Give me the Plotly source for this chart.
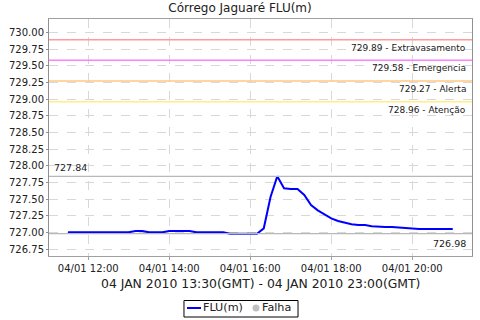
import plotly.graph_objects as go
import pandas as pd

times = pd.date_range("2010-01-04 11:30", "2010-01-04 21:00", freq="10min")
flu = [727.00, 727.00, 727.00, 727.00, 727.00, 727.00, 727.00, 727.00, 727.00, 727.00,
       727.02, 727.02, 727.00, 727.00, 727.00, 727.02, 727.02, 727.02, 727.02, 727.00,
       727.00, 727.00, 727.00, 727.00, 726.98, 726.98, 726.98, 726.98, 726.98, 727.06,
       727.53, 727.84, 727.66, 727.65, 727.65, 727.56, 727.41, 727.33, 727.27, 727.21,
       727.17, 727.14, 727.12, 727.11, 727.11, 727.09, 727.08, 727.08, 727.08, 727.07,
       727.06, 727.06, 727.05, 727.05, 727.05, 727.05, 727.05, 727.05]

threshold_values = [729.89, 729.58, 729.27, 728.96]
threshold_names = ["Extravasamento", "Emergencia", "Alerta", "Atenção"]
threshold_colors = ["#ff9a9a", "#ff80ff", "#ffc880", "#ffee88"]

max_val = 727.84
min_val = 726.98

title = "Córrego Jaguaré FLU(m)"
xtitle = "04 JAN 2010 13:30(GMT) - 04 JAN 2010 23:00(GMT)"
legend_names = ["FLU(m)", "Falha"]
font = "DejaVu Sans"
txt = "#202020"

fig = go.Figure()
fig.add_trace(go.Scatter(x=times, y=flu, mode="lines", name=legend_names[0],
                         line=dict(color="#0000ff", width=2), showlegend=False))

shapes = []
annotations = []
for v, n, c in zip(threshold_values, threshold_names, threshold_colors):
    shapes.append(dict(type="line", xref="paper", x0=0, x1=1, yref="y", y0=v, y1=v,
                       line=dict(color=c, width=1.5)))
    annotations.append(dict(xref="paper", x=0.99, yref="y", y=v, yshift=-1,
                            text=f"{v:.2f} - {n}", showarrow=False,
                            xanchor="right", yanchor="top",
                            font=dict(family=font, size=9, color=txt)))
for v in [max_val, min_val]:
    shapes.append(dict(type="line", xref="paper", x0=0, x1=1, yref="y", y0=v, y1=v,
                       line=dict(color="#b8b8b8", width=1.2)))
annotations.append(dict(xref="paper", x=0.007, yref="y", y=max_val, yshift=1,
                        text=f"{max_val:.2f}", showarrow=False, xanchor="left",
                        yanchor="bottom", font=dict(family=font, size=9.5, color=txt)))
annotations.append(dict(xref="paper", x=0.99, yref="y", y=min_val, yshift=-2,
                        text=f"{min_val:.2f}", showarrow=False, xanchor="right",
                        yanchor="top", font=dict(family=font, size=9.5, color=txt)))

# x axis title
annotations.append(dict(xref="paper", x=0.5, yref="paper", y=-0.114, text=xtitle,
                        showarrow=False, xanchor="center", yanchor="middle",
                        font=dict(family=font, size=12.4, color=txt)))

# custom legend
ly = -0.2194
shapes.append(dict(type="rect", xref="paper", yref="paper", x0=0.3191, x1=0.5887,
                   y0=-0.2574, y1=-0.1878, line=dict(color="#000000", width=1),
                   fillcolor="white"))
shapes.append(dict(type="line", xref="paper", yref="paper", x0=0.3262, x1=0.3593,
                   y0=ly, y1=ly, line=dict(color="#0000ff", width=2)))
shapes.append(dict(type="circle", xref="paper", yref="paper", x0=0.4894 - 0.0083,
                   x1=0.4894 + 0.0083, y0=ly - 0.0148, y1=ly + 0.0148,
                   line=dict(width=0), fillcolor="#c0c0c0"))
annotations.append(dict(xref="paper", x=0.3600, yref="paper", y=ly,
                        text=legend_names[0], showarrow=False, xanchor="left",
                        yanchor="middle", font=dict(family=font, size=11.2, color=txt)))
annotations.append(dict(xref="paper", x=0.4990, yref="paper", y=ly,
                        text=legend_names[1], showarrow=False, xanchor="left",
                        yanchor="middle", font=dict(family=font, size=11.2, color=txt)))

fig.update_layout(
    width=480, height=320,
    margin=dict(l=49, r=8, t=19, b=64, autoexpand=False),
    paper_bgcolor="white", plot_bgcolor="white",
    font=dict(family=font, size=10, color=txt),
    title=dict(text=title, x=0.5, xanchor="center", y=0.975, yanchor="middle",
               font=dict(family=font, size=12, color=txt)),
    shapes=shapes, annotations=annotations, showlegend=False,
    xaxis=dict(range=["2010-01-04 11:01:48", "2010-01-04 21:28:30"],
               tick0="2010-01-04 12:00", dtick=7200000, tickformat="%d/%m %H:%M",
               showgrid=True, gridcolor="#d8d8d8", griddash="dash", gridwidth=1,
               showline=True, linecolor="#a0a0a0", mirror=True,
               ticks="outside", ticklen=3, tickcolor="#a0a0a0",
               tickfont=dict(family=font, size=10, color=txt),
               automargin=False, zeroline=False),
    yaxis=dict(range=[726.645, 730.2], tick0=726.75, dtick=0.25, tickformat=".2f",
               showgrid=True, gridcolor="#d8d8d8", griddash="dash", gridwidth=1,
               showline=True, linecolor="#909090", mirror=True,
               ticks="outside", ticklen=2, tickcolor="#909090",
               tickfont=dict(family=font, size=10, color=txt),
               automargin=False, zeroline=False),
)

fig.write_html("out.html")
